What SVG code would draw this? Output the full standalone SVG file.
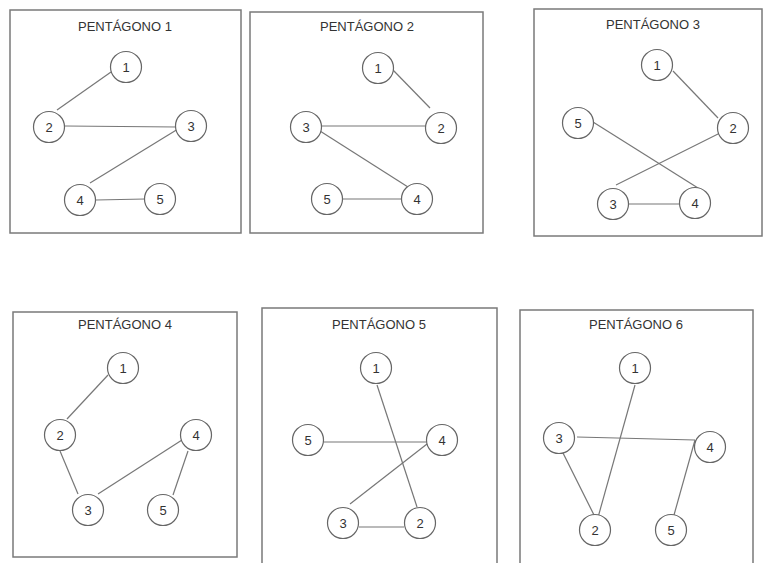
<svg xmlns="http://www.w3.org/2000/svg" width="763" height="563" viewBox="0 0 763 563">
<style>
.box{fill:none;stroke:#7a7a7a;stroke-width:1.5}
.title{font-family:"Liberation Sans",Arial,sans-serif;font-size:13px;fill:#333;text-anchor:middle}
.node circle{fill:#fff;stroke:#666;stroke-width:1.2}
.node text{font-family:"Liberation Sans",Arial,sans-serif;font-size:13px;fill:#333;text-anchor:middle;dominant-baseline:central}
.edges line{stroke:#777;stroke-width:1.2}
</style>
<rect width="763" height="563" fill="#fff"/>
<g id="panels">
<rect class="box" x="10" y="10" width="231" height="223"/>
<rect class="box" x="250" y="12" width="233" height="221"/>
<rect class="box" x="534" y="9" width="228" height="227"/>
<rect class="box" x="13" y="312" width="224" height="245"/>
<path class="box" d="M262,570 V308 H497 V570"/>
<path class="box" d="M520,570 V310 H753 V570"/>
<text class="title" x="125" y="31">PENTÁGONO 1</text>
<text class="title" x="367" y="31">PENTÁGONO 2</text>
<text class="title" x="653" y="29">PENTÁGONO 3</text>
<text class="title" x="125" y="329">PENTÁGONO 4</text>
<text class="title" x="379" y="329">PENTÁGONO 5</text>
<text class="title" x="636" y="329">PENTÁGONO 6</text>
</g>
<g class="edges" id="connectors">
<line x1="111" y1="72" x2="57" y2="110"/>
<line x1="65" y1="126" x2="177" y2="127"/>
<line x1="178" y1="129" x2="90" y2="183"/>
<line x1="96" y1="200" x2="145" y2="199"/>
<line x1="393" y1="70" x2="430" y2="108"/>
<line x1="322" y1="126" x2="425" y2="126"/>
<line x1="320" y1="131" x2="408" y2="187"/>
<line x1="342" y1="199" x2="401" y2="199"/>
<line x1="673" y1="71" x2="718" y2="118"/>
<line x1="593" y1="122" x2="698" y2="188"/>
<line x1="722" y1="132" x2="616" y2="185"/>
<line x1="628" y1="204" x2="679" y2="204"/>
<line x1="108" y1="375" x2="67" y2="419"/>
<line x1="60" y1="451" x2="78" y2="494"/>
<line x1="182" y1="440" x2="98" y2="494"/>
<line x1="188" y1="451" x2="173" y2="495"/>
<line x1="377" y1="385" x2="417" y2="507"/>
<line x1="324" y1="442" x2="426" y2="442"/>
<line x1="427" y1="444" x2="350" y2="504"/>
<line x1="359" y1="527" x2="404" y2="527"/>
<line x1="635" y1="385" x2="597" y2="521"/>
<line x1="577" y1="437" x2="695" y2="440"/>
<line x1="563" y1="453" x2="597" y2="521"/>
<line x1="695" y1="440" x2="674" y2="515"/>
</g>
<g id="p1n1" class="node"><circle cx="126" cy="67" r="15.5"/><text x="126" y="67">1</text></g>
<g id="p1n2" class="node"><circle cx="49" cy="127" r="15.5"/><text x="49" y="127">2</text></g>
<g id="p1n3" class="node"><circle cx="191" cy="126" r="15.5"/><text x="191" y="126">3</text></g>
<g id="p1n4" class="node"><circle cx="80" cy="200" r="15.5"/><text x="80" y="200">4</text></g>
<g id="p1n5" class="node"><circle cx="160" cy="199" r="15.5"/><text x="160" y="199">5</text></g>
<g id="p2n1" class="node"><circle cx="378" cy="68" r="15.5"/><text x="378" y="68">1</text></g>
<g id="p2n2" class="node"><circle cx="441" cy="128" r="15.5"/><text x="441" y="128">2</text></g>
<g id="p2n3" class="node"><circle cx="306" cy="127" r="15.5"/><text x="306" y="127">3</text></g>
<g id="p2n4" class="node"><circle cx="417" cy="199" r="15.5"/><text x="417" y="199">4</text></g>
<g id="p2n5" class="node"><circle cx="327" cy="199" r="15.5"/><text x="327" y="199">5</text></g>
<g id="p3n1" class="node"><circle cx="657" cy="65" r="15.5"/><text x="657" y="65">1</text></g>
<g id="p3n2" class="node"><circle cx="733" cy="128" r="15.5"/><text x="733" y="128">2</text></g>
<g id="p3n3" class="node"><circle cx="613" cy="204" r="15.5"/><text x="613" y="204">3</text></g>
<g id="p3n4" class="node"><circle cx="695" cy="203" r="15.5"/><text x="695" y="203">4</text></g>
<g id="p3n5" class="node"><circle cx="578" cy="123" r="15.5"/><text x="578" y="123">5</text></g>
<g id="p4n1" class="node"><circle cx="123" cy="368" r="15.5"/><text x="123" y="368">1</text></g>
<g id="p4n2" class="node"><circle cx="60" cy="435" r="15.5"/><text x="60" y="435">2</text></g>
<g id="p4n3" class="node"><circle cx="88" cy="510" r="15.5"/><text x="88" y="510">3</text></g>
<g id="p4n4" class="node"><circle cx="196" cy="435" r="15.5"/><text x="196" y="435">4</text></g>
<g id="p4n5" class="node"><circle cx="163" cy="510" r="15.5"/><text x="163" y="510">5</text></g>
<g id="p5n1" class="node"><circle cx="376" cy="368" r="15.5"/><text x="376" y="368">1</text></g>
<g id="p5n2" class="node"><circle cx="420" cy="523" r="15.5"/><text x="420" y="523">2</text></g>
<g id="p5n3" class="node"><circle cx="343" cy="523" r="15.5"/><text x="343" y="523">3</text></g>
<g id="p5n4" class="node"><circle cx="442" cy="440" r="15.5"/><text x="442" y="440">4</text></g>
<g id="p5n5" class="node"><circle cx="308" cy="440" r="15.5"/><text x="308" y="440">5</text></g>
<g id="p6n1" class="node"><circle cx="635" cy="368" r="15.5"/><text x="635" y="368">1</text></g>
<g id="p6n2" class="node"><circle cx="595" cy="530" r="15.5"/><text x="595" y="530">2</text></g>
<g id="p6n3" class="node"><circle cx="559" cy="438" r="15.5"/><text x="559" y="438">3</text></g>
<g id="p6n4" class="node"><circle cx="710" cy="447" r="15.5"/><text x="710" y="447">4</text></g>
<g id="p6n5" class="node"><circle cx="671" cy="530" r="15.5"/><text x="671" y="530">5</text></g>
</svg>
